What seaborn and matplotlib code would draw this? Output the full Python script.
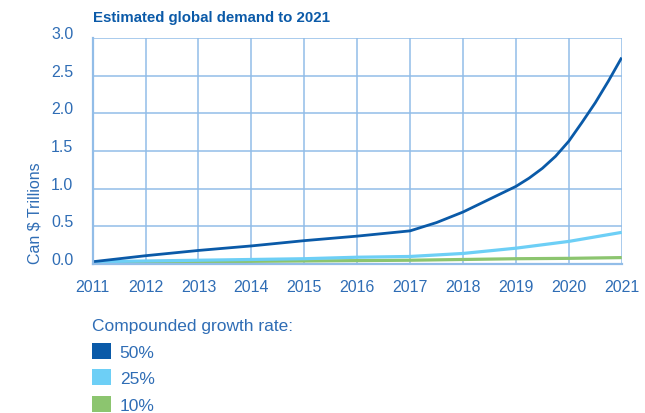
import matplotlib
matplotlib.use("Agg")
import matplotlib.pyplot as plt
from matplotlib.patches import Patch
import seaborn as sns
import pandas as pd

# ---- data ----
years_50 = [2011, 2012, 2013, 2014, 2015, 2016, 2017, 2017.5, 2018, 2018.5, 2019,
            2019.25, 2019.5, 2019.75, 2020, 2020.25, 2020.5, 2020.75, 2021]
vals_50 = [0.03, 0.11, 0.18, 0.24, 0.31, 0.37, 0.44, 0.55, 0.69, 0.86, 1.03,
           1.14, 1.27, 1.43, 1.63, 1.88, 2.14, 2.43, 2.74]
years_25 = [2011, 2012, 2013, 2014, 2015, 2016, 2017, 2018, 2019, 2020, 2021]
vals_25 = [0.03, 0.04, 0.05, 0.06, 0.07, 0.09, 0.10, 0.14, 0.21, 0.30, 0.42]
years_10 = [2011, 2012, 2013, 2014, 2015, 2016, 2017, 2018, 2019, 2020, 2021]
vals_10 = [0.02, 0.025, 0.03, 0.035, 0.04, 0.045, 0.05, 0.06, 0.07, 0.075, 0.085]

series_names = ["10%", "25%", "50%"]
legend_order = ["50%", "25%", "10%"]
year_ticks = list(range(2011, 2022))
y_ticks = [0.0, 0.5, 1.0, 1.5, 2.0, 2.5, 3.0]

title = "Estimated global demand to 2021"
ylabel = "Can $ Trillions"
legend_title = "Compounded growth rate:"

colors = {"50%": "#0a5aa8", "25%": "#6dcff6", "10%": "#8cc56f"}
widths = {"50%": 2.0, "25%": 2.3, "10%": 2.3}
text_color = "#2f6db5"
grid_color = "#92bde8"

df = pd.concat([
    pd.DataFrame({"year": years_10, "value": vals_10, "rate": "10%"}),
    pd.DataFrame({"year": years_25, "value": vals_25, "rate": "25%"}),
    pd.DataFrame({"year": years_50, "value": vals_50, "rate": "50%"}),
], ignore_index=True)

sns.set_theme(style="white")
plt.rcParams["font.family"] = ["Liberation Sans", "DejaVu Sans"]

fig = plt.figure(figsize=(6.45, 4.14), dpi=100)
ax = fig.add_axes([92.7 / 645, 1 - 265 / 414, 529 / 645, 226 / 414])

sns.lineplot(data=df, x="year", y="value", hue="rate", hue_order=series_names,
             palette=colors, ax=ax, legend=False, estimator=None, sort=True)
for line, name in zip(ax.lines, series_names):
    line.set_linewidth(widths[name])
    line.set_solid_capstyle("butt")
    line.set_solid_joinstyle("round")

ax.set_xlim(2011, 2021)
ax.set_ylim(0, 3.0)
ax.set_xticks(year_ticks)
ax.set_xticklabels([str(y) for y in year_ticks])
ax.set_yticks(y_ticks)
ax.set_yticklabels([f"{v:.1f}" for v in y_ticks])
ax.grid(True, color=grid_color, linewidth=1.1)
ax.set_axisbelow(True)
for s in ax.spines.values():
    s.set_visible(False)
for s in ["left", "bottom"]:
    ax.spines[s].set_visible(True)
    ax.spines[s].set_color(grid_color)
    ax.spines[s].set_linewidth(1.6)

ax.tick_params(axis="both", length=0, labelsize=11.5, labelcolor=text_color)
ax.tick_params(axis="x", pad=11)
ax.tick_params(axis="y", pad=14)
for lab in ax.get_yticklabels():
    lab.set_verticalalignment("baseline")

ax.set_xlabel("")
ax.set_ylabel(ylabel, fontsize=11.5, color=text_color)
ax.yaxis.set_label_coords(-0.094, 0.23)

fig.text(93 / 645, 1 - 18 / 414, title, fontsize=10.8, fontweight="bold",
         color="#0b5aa8", ha="left", va="center")

handles = [Patch(facecolor=colors[n], edgecolor="none") for n in legend_order]
leg = fig.legend(handles, legend_order, title=legend_title,
                 loc="upper left", bbox_to_anchor=(92 / 645, 1 - 319 / 414),
                 frameon=False, borderpad=0, borderaxespad=0,
                 fontsize=12.5, title_fontsize=12.5,
                 handlelength=1.1, handleheight=1.05, handletextpad=0.5,
                 labelspacing=0.55, alignment="left")
for t in leg.get_texts():
    t.set_color(text_color)
leg.get_title().set_color(text_color)

fig.savefig("out.png", dpi=100)
